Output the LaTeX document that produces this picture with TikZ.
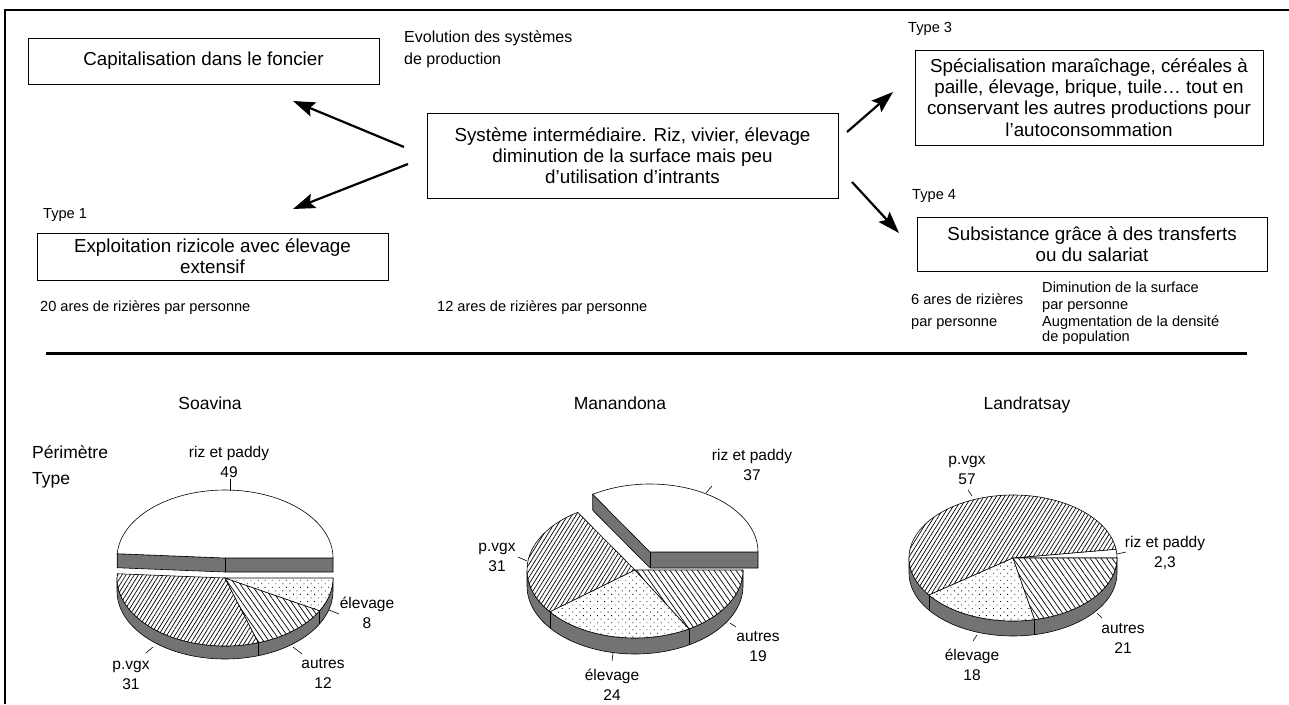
\documentclass[tikz,border=0pt]{standalone}
\usepackage{fontspec}
\setmainfont{Liberation Sans}
\usetikzlibrary{arrows.meta,patterns.meta,calc}
% cx cy rx ry a b style   (angles counter-clockwise on screen)
\newcommand{\pietop}[7]{\path[#7] (#1,#2) -- ([shift={(#1,#2)}]{-#5}:#3 and #4) arc[start angle={-#5}, end angle={-#6}, x radius=#3, y radius=#4] -- cycle;}
% cx cy rx ry a b h style
\newcommand{\pieside}[8]{\path[#8] ([shift={(#1,#2)}]{-#5}:#3 and #4) arc[start angle={-#5}, end angle={-#6}, x radius=#3, y radius=#4] -- ++(0,#7) arc[start angle={-#6}, end angle={-#5}, x radius=#3, y radius=#4] -- cycle;}
\newcommand{\sideline}[6]{\draw[edge] ([shift={(#1,#2)}]{-#5}:#3 and #4) -- ++(0,#6);}
\begin{document}
\begin{tikzpicture}[x=1pt,y=-1pt,
 box/.style={draw, line width=0.9pt, align=center, inner sep=0pt, font=\fontsize{18.8}{21.3}\selectfont},
 small/.style={font=\fontsize{14.6}{17}\selectfont, inner sep=0pt, anchor=base west},
 ttl/.style={font=\fontsize{17.5}{20}\selectfont, inner sep=0pt, anchor=base},
 lbl/.style={font=\fontsize{15.5}{20}\selectfont, align=center, inner sep=0pt},
 arr/.style={line width=2.2pt, -{Stealth[length=22pt,width=15pt,inset=4pt]}},
 edge/.style={draw=black, line width=0.6pt},
 sidef/.style={edge, fill=black!55},
 whitef/.style={edge, fill=white},
 pvgx/.style={edge, preaction={fill=white}, pattern={Lines[angle=58,distance=3.5pt,line width=0.7pt]}},
 autr/.style={edge, preaction={fill=white}, pattern={Lines[angle=-55,distance=4.5pt,line width=0.7pt]}},
 elev/.style={edge, preaction={fill=white}, pattern={Dots[distance=5pt,angle=45,radius=0.6pt]}},
 leader/.style={line width=0.6pt}]
\useasboundingbox (0,0) rectangle (1289,704);
% frame
\draw[line width=1.5pt] (5,704) -- (5,10) -- (1289,10);
% boxes
\node[box, minimum width=351pt, minimum height=46pt] (cap) at (203.5,61) {Capitalisation dans le foncier};
\node[box, minimum width=411pt, minimum height=85pt] (sys) at (632.5,155.5) {Système intermédiaire. Riz, vivier, élevage\\diminution de la surface mais peu\\d’utilisation d’intrants};
\node[box, minimum width=348pt, minimum height=95pt] (t3) at (1089,97.5) {Spécialisation maraîchage, céréales à\\paille, élevage, brique, tuile… tout en\\conservant les autres productions pour\\l’autoconsommation};
\node[box, minimum width=350pt, minimum height=54pt] (t4) at (1092,244) {Subsistance grâce à des transferts\\ou du salariat};
\node[box, minimum width=351pt, minimum height=47pt] (t1) at (212.5,256.5) {Exploitation rizicole avec élevage\\extensif};
% arrows
\coordinate (a1s) at (404,147); \coordinate (a1e) at (293,101);
\coordinate (a2s) at (408,164); \coordinate (a2e) at (293,209);
\coordinate (a3s) at (847,132); \coordinate (a3e) at (893,92);
\coordinate (a4s) at (852,182); \coordinate (a4e) at (899,233);
\draw[arr] (a1s) -- (a1e);
\draw[arr] (a2s) -- (a2e);
\draw[arr] (a3s) -- (a3e);
\draw[arr] (a4s) -- (a4e);
% small texts
\node[small, font=\fontsize{16}{18}\selectfont] (evo1) at (404,42) {Evolution des systèmes};
\node[small, font=\fontsize{16}{18}\selectfont] (evo2) at (404,64) {de production};
\node[small] (ty3) at (908,32) {Type 3};
\node[small] (ty4) at (912,199) {Type 4};
\node[small] (ty1) at (43,218) {Type 1};
\node[small] (ar20) at (40,311) {20 ares de rizières par personne};
\node[small] (ar12) at (437,311) {12 ares de rizières par personne};
\node[small] (ar6a) at (911,304) {6 ares de rizières};
\node[small] (ar6b) at (911,326) {par personne};
\node[small] (dim1) at (1042,292) {Diminution de la surface};
\node[small] (dim2) at (1042,309) {par personne};
\node[small] (dim3) at (1042,326) {Augmentation de la densité};
\node[small] (dim4) at (1042,341) {de population};
% separator
\coordinate (sepA) at (46,353.5); \coordinate (sepB) at (1247,353.5);
\draw[line width=2.6pt] (sepA) -- (sepB);
% titles
\node[ttl] (soa) at (210,409) {Soavina};
\node[ttl] (man) at (620,409) {Manandona};
\node[ttl] (lan) at (1027,409) {Landratsay};
\node[ttl, anchor=base west] (per) at (32,458) {Périmètre};
\node[ttl, anchor=base west] (typ) at (32,484) {Type};
% ---- Soavina
\pieside{225}{578}{108}{68}{180}{360}{13}{sidef}
\sideline{225}{578}{108}{68}{288}{13}
\sideline{225}{578}{108}{68}{331.2}{13}
\pietop{225}{578}{108}{68}{176.4}{288}{pvgx}
\pietop{225}{578}{108}{68}{288}{331.2}{autr}
\pietop{225}{578}{108}{68}{331.2}{360}{elev}
\coordinate (sC) at (225,558);
\coordinate (sL) at ([shift={(225,558)}]{-176.4}:108 and 68);
\coordinate (sR) at (333,558);
\path[sidef] (sL) -- (sC) -- (sR) -- ($(sR)+(0,14)$) -- ($(sC)+(0,14)$) -- ($(sL)+(0,14)$) -- cycle;
\draw[edge] (sC) -- ($(sC)+(0,14)$);
\pietop{225}{558}{108}{68}{0}{176.4}{whitef}
\node[lbl] (s_riz) at (229,462) {riz et paddy\\49};
\node[lbl] (s_ele) at (367,613) {élevage\\8};
\node[lbl] (s_aut) at (323,673) {autres\\12};
\node[lbl] (s_pvg) at (131,675) {p.vgx\\31};
\draw[leader] (230,479) -- (230,491);
\draw[leader] (329,610) -- (339,614);
\draw[leader] (293,647) -- (302,654);
\draw[leader] (153,647) -- (146,653);
% ---- Manandona
\pieside{635}{570}{108}{68}{180}{360}{16}{sidef}
\sideline{635}{570}{108}{68}{218}{16}
\sideline{635}{570}{108}{68}{300}{16}
\pietop{635}{570}{108}{68}{122}{218}{pvgx}
\pietop{635}{570}{108}{68}{218}{300}{elev}
\pietop{635}{570}{108}{68}{300}{360}{autr}
\coordinate (mC) at (650,552);
\coordinate (mL) at ([shift={(650,552)}]{-122}:108 and 68);
\coordinate (mR) at (758,552);
\path[sidef] (mL) -- (mC) -- (mR) -- ($(mR)+(0,16)$) -- ($(mC)+(0,16)$) -- ($(mL)+(0,16)$) -- cycle;
\draw[edge] (mC) -- ($(mC)+(0,16)$);
\pietop{650}{552}{108}{68}{0}{122}{whitef}
\node[lbl] (m_riz) at (752,465) {riz et paddy\\37};
\node[lbl] (m_pvg) at (497,557) {p.vgx\\31};
\node[lbl] (m_ele) at (612,685) {élevage\\24};
\node[lbl] (m_aut) at (758,647) {autres\\19};
\draw[leader] (712,486) -- (706,493);
\draw[leader] (518,557) -- (527,561);
\draw[leader] (613,653) -- (612,661);
\draw[leader] (730,623) -- (736,627);
% ---- Landratsay
\pieside{1013}{558}{104}{63}{180}{360}{15}{sidef}
\sideline{1013}{558}{104}{63}{216}{15}
\sideline{1013}{558}{104}{63}{282}{15}
\pietop{1013}{558}{104}{63}{0}{8}{whitef}
\pietop{1013}{558}{104}{63}{8}{216}{pvgx}
\pietop{1013}{558}{104}{63}{216}{282}{elev}
\pietop{1013}{558}{104}{63}{282}{360}{autr}
\node[lbl] (l_pvg) at (967,470) {p.vgx\\57};
\node[lbl] (l_riz) at (1165,553) {riz et paddy\\2,3};
\node[lbl] (l_aut) at (1123,638) {autres\\21};
\node[lbl] (l_ele) at (972,665) {élevage\\18};
\draw[leader] (968,490) -- (972,496);
\draw[leader] (1117,554) -- (1126,552);
\draw[leader] (1097,613) -- (1102,618);
\draw[leader] (977,635) -- (973,641);
\end{tikzpicture}
\end{document}
